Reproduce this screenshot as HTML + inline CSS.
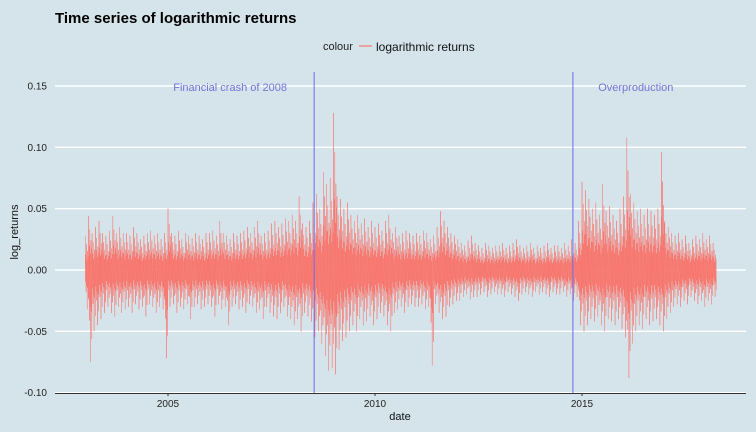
<!DOCTYPE html>
<html><head><meta charset="utf-8"><style>
body{margin:0;background:#d5e4eb;}
svg{display:block;font-family:"Liberation Sans",sans-serif;}
</style></head><body>
<svg id="chart" width="756" height="432">
<rect width="756" height="432" fill="#d5e4eb"/>
<text x="55" y="23" font-size="15" font-weight="bold" fill="#000">Time series of logarithmic returns</text>
<g>
<text x="323" y="50" font-size="11" fill="#222">colour</text>
<line x1="359" y1="46" x2="372" y2="46" stroke="#f8766d" stroke-width="1.2"/>
<text x="376" y="51" font-size="12" fill="#111">logarithmic returns</text>
</g>
<g id="grid"></g>
<g id="series"></g>
<g id="annot"></g>
<g id="axes"></g>
<text x="400" y="420" font-size="11" text-anchor="middle" fill="#111">date</text>
<text transform="translate(18,232) rotate(-90)" font-size="11" text-anchor="middle" fill="#111">log_returns</text>
</svg>
<script>
const yTicks=[0.15,0.10,0.05,0.00,-0.05,-0.10];
const yTickLabels=["0.15","0.10","0.05","0.00","-0.05","-0.10"];
const xTicks=[2005,2010,2015];
const startYear=2003;
// monthly max / min returns (in 0.001 units), Jan 2003 .. Mar 2018
const monthlyHigh=[28,44,30,35,40,30,28,32,44,30,35,30,
30,28,35,30,25,28,30,32,28,30,25,30,
50,30,28,32,25,30,28,26,30,28,25,30,
30,32,28,40,30,28,25,30,28,30,32,35,
30,35,40,28,30,32,38,40,35,38,42,40,
45,40,60,38,35,40,55,62,50,80,70,75,
128,60,58,50,55,45,40,45,38,42,35,40,
35,38,32,40,45,30,35,28,30,32,30,28,
30,28,32,30,25,28,35,48,40,35,30,28,
25,22,20,24,28,22,20,18,22,20,18,20,
20,22,18,20,22,25,20,18,20,22,18,20,
18,20,22,18,20,20,18,22,20,25,22,40,
72,65,58,50,55,45,70,48,52,45,40,50,
60,108,62,55,48,50,45,50,48,45,50,96,
40,35,30,28,30,25,28,22,25,28,25,30,
25,28,22];
const monthlyLow=[-32,-75,-50,-45,-40,-35,-30,-35,-38,-30,-35,-32,
-30,-35,-28,-32,-30,-38,-28,-30,-35,-30,-32,-72,
-30,-28,-35,-30,-32,-28,-40,-30,-28,-32,-30,-28,
-30,-38,-28,-32,-30,-45,-30,-28,-32,-30,-35,-28,
-30,-35,-32,-40,-30,-35,-38,-40,-35,-30,-38,-40,
-45,-40,-50,-35,-38,-42,-55,-50,-60,-70,-82,-80,
-85,-65,-58,-55,-50,-45,-50,-40,-45,-42,-38,-45,
-40,-35,-38,-45,-50,-35,-32,-30,-35,-30,-28,-30,
-30,-28,-32,-30,-78,-28,-35,-40,-38,-30,-28,-25,
-25,-22,-20,-24,-22,-22,-20,-18,-22,-20,-18,-20,
-20,-22,-18,-20,-22,-25,-20,-18,-20,-22,-18,-20,
-18,-20,-22,-18,-20,-20,-18,-22,-20,-25,-22,-45,
-50,-45,-40,-42,-38,-45,-50,-40,-42,-45,-40,-48,
-55,-88,-60,-50,-45,-48,-40,-45,-42,-40,-45,-50,
-40,-35,-30,-28,-30,-25,-28,-22,-25,-28,-25,-30,
-25,-28,-22];
const eventDates=[2008.53,2014.78];
const eventLabels=["Financial crash of 2008","Overproduction"];
const eventLabelX=[2006.5,2016.3];

const NS="http://www.w3.org/2000/svg";
const L=55,R=746,T=71,B=393;
const xs=d=>168+(d-2005)*41.4;
const ys=v=>270-v*1226.7;
function mk(tag,attrs,parent){const e=document.createElementNS(NS,tag);for(const k in attrs)e.setAttribute(k,attrs[k]);parent.appendChild(e);return e;}
const grid=document.getElementById('grid'),axes=document.getElementById('axes'),ser=document.getElementById('series'),ann=document.getElementById('annot');
yTicks.forEach((t,i)=>{
 const g=mk('line',{x1:L,x2:R,y1:ys(t),y2:ys(t),stroke:'#fff','stroke-width':1.4},grid);
 
 
 const tx=mk('text',{x:47,y:ys(t)+3.5,'font-size':10,'text-anchor':'end',fill:'#222'},axes);
 tx.textContent=yTickLabels[i];
 
 
});
const ax=mk('line',{x1:L,x2:R,y1:B+0.5,y2:B+0.5,stroke:'#333','stroke-width':1},axes);


xTicks.forEach(t=>{
 const tk=mk('line',{x1:xs(t),x2:xs(t),y1:B,y2:B+3,stroke:'#333'},axes);
 
 
 const tx=mk('text',{x:xs(t),y:B+14,'font-size':10,'text-anchor':'middle',fill:'#222'},axes);
 tx.textContent=t;
 
 
});
let pts=[];
const fr=[1,0.45,0.75,0.3,0.55,0.4];
monthlyHigh.forEach((h,i)=>{
 const lo=monthlyLow[i];
 for(let k=0;k<6;k++){
  const d=startYear+(i+k/6)/12;
  pts.push(xs(d).toFixed(1)+','+ys(h*fr[k]/1000).toFixed(1));
  pts.push(xs(d+1/144).toFixed(1)+','+ys(lo*fr[(k+3)%6]/1000).toFixed(1));
 }
});
const pl=mk('polyline',{points:pts.join(' '),fill:'none',stroke:'#f8766d','stroke-width':0.5},ser);


eventDates.forEach((d,i)=>{
 const v=mk('line',{x1:xs(d),x2:xs(d),y1:T+1,y2:B,stroke:'#6b6bee','stroke-width':1},ann);
 
 
 const tx=mk('text',{x:xs(eventLabelX[i]),y:91,'font-size':11,'text-anchor':'middle',fill:'#7474d8'},ann);
 tx.textContent=eventLabels[i];
 
 
});
</script>
</body></html>
